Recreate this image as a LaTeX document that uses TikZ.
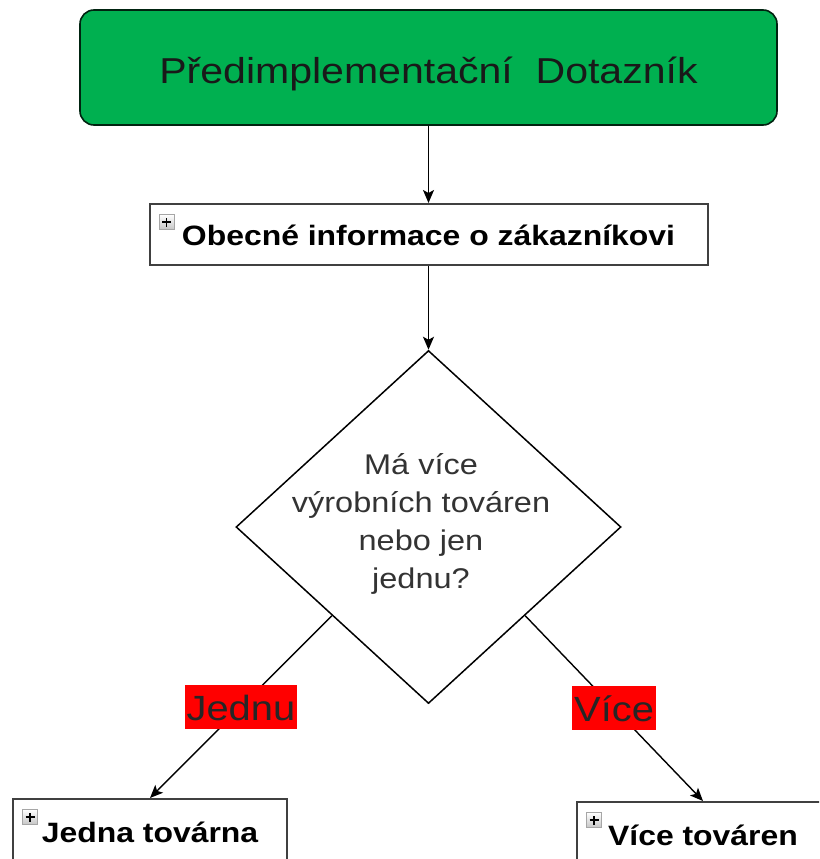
\documentclass[tikz,border=0pt]{standalone}
\usepackage{fontspec}
\setmainfont{Liberation Sans}[FakeStretch=1.14]
\usetikzlibrary{shapes.geometric,arrows.meta}
\definecolor{titlegreen}{RGB}{0,176,80}
\definecolor{tagred}{RGB}{255,0,0}
\begin{document}
\begin{tikzpicture}[x=1pt,y=-1pt,
  titlebox/.style={draw=black!80!titlegreen, line width=1.6pt, fill=titlegreen,
    rounded corners=14pt, inner sep=0pt, text=black!90,
    font=\fontsize{36}{40}\selectfont, text height=31pt, text depth=0pt},
  infobox/.style={draw=black!75, line width=2pt, fill=white, inner sep=0pt,
    font=\fontsize{28}{32}\bfseries\selectfont, text height=21pt, text depth=0pt},
  question/.style={diamond, draw=black, line width=1.5pt, inner sep=0pt},
  qtext/.style={align=center, text=black!80, font=\fontsize{28.5}{37.7}\selectfont},
  flow/.style={line width=1.4pt, -{Stealth[length=13pt,width=11pt,inset=3pt]}},
  tag/.style={fill=tagred, inner xsep=2pt, inner ysep=8.5pt, text height=27pt,
    text depth=0pt, text=black!85, font=\fontsize{35}{40}\selectfont},
  plusicon/.style={draw=gray!70, line width=0.8pt, top color=white,
    bottom color=gray!45, minimum size=15pt, inner sep=0pt,
    path picture={\draw[line width=1.3pt, black]
      ([xshift=-4.5pt]path picture bounding box.center) --
      ([xshift=4.5pt]path picture bounding box.center)
      ([yshift=-4.5pt]path picture bounding box.center) --
      ([yshift=4.5pt]path picture bounding box.center);}}
]
\path[use as bounding box] (0,0) rectangle (819,859);
\clip (0,0) rectangle (819,859);
\fill[white] (0,0) rectangle (819,859);

% header
\node[titlebox, minimum width=697pt, minimum height=115pt] (title)
  at (428.5,67.5) {Předimplementační~~Dotazník};

% general information section
\node[infobox, minimum width=558pt, minimum height=61pt] (info)
  at (428.5,234.5) {Obecné informace o zákazníkovi};
\node[plusicon] (infoicon) at ([shift={(18,19)}]info.north west) {};

% decision
\node[question, minimum width=385pt, minimum height=353pt] (q) at (428.5,527) {};
\node[qtext] (qt) at (421,524) {Má více\\výrobních továren\\nebo jen\\jednu?};

% outcomes
\node[infobox, minimum width=274pt, minimum height=62pt, text height=24pt] (one)
  at (150,830) {Jedna továrna};
\node[plusicon] (oneicon) at ([shift={(18,19)}]one.north west) {};

\node[infobox, minimum width=252pt, minimum height=62pt, text height=24pt] (many)
  at (703,833) {Více továren};
\node[plusicon] (manyicon) at ([shift={(18,19)}]many.north west) {};

% connectors
\draw[flow] (title.south) -- (info.north);
\draw[flow] (info.south) -- (q.north);
\draw[flow] (q.south west) -- node[tag] (tagone) {Jednu} (one.north);
\draw[flow] (q.south east) -- node[tag] (tagmany) {Více} (many.north);
\end{tikzpicture}
\end{document}
